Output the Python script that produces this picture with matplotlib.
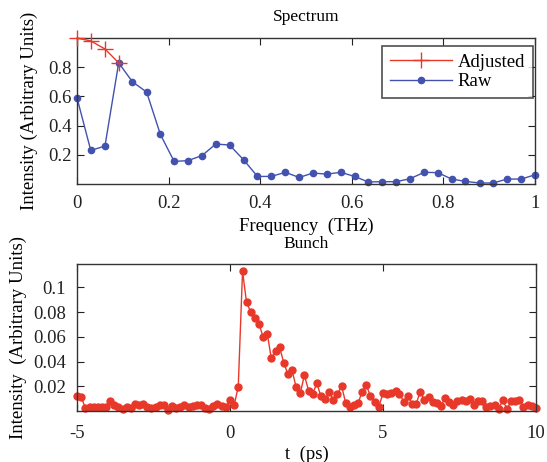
import matplotlib
matplotlib.use("Agg")
import matplotlib.pyplot as plt

plt.rcParams["font.family"] = ["Liberation Serif", "DejaVu Serif"]
plt.rcParams["axes.unicode_minus"] = False

# === Spectrum data
freq_raw = [0.000, 0.030, 0.061, 0.091, 0.121, 0.152, 0.182, 0.212, 0.242, 0.273,
            0.303, 0.333, 0.364, 0.394, 0.424, 0.455, 0.485, 0.515, 0.545, 0.576,
            0.606, 0.636, 0.667, 0.697, 0.727, 0.758, 0.788, 0.818, 0.848, 0.879,
            0.909, 0.939, 0.970, 1.000]
raw = [0.59, 0.23, 0.26, 0.83, 0.70, 0.63, 0.34, 0.155, 0.16, 0.195,
       0.274, 0.267, 0.165, 0.052, 0.052, 0.080, 0.045, 0.075, 0.068, 0.080,
       0.052, 0.014, 0.016, 0.016, 0.036, 0.080, 0.078, 0.034, 0.018, 0.007,
       0.007, 0.034, 0.034, 0.063]
freq_adj = [0.000, 0.030, 0.061, 0.091]
adjusted = [1.0, 0.98, 0.925, 0.83]

# === Bunch data
t_ps = [-5.00, -4.86, -4.73, -4.59, -4.46, -4.32, -4.19, -4.05, -3.92, -3.78,
        -3.65, -3.51, -3.38, -3.24, -3.11, -2.97, -2.84, -2.70, -2.57, -2.43,
        -2.30, -2.16, -2.03, -1.89, -1.76, -1.62, -1.49, -1.35, -1.22, -1.08,
        -0.95, -0.81, -0.68, -0.54, -0.41, -0.27, -0.14, 0.00, 0.14, 0.27,
        0.41, 0.54, 0.68, 0.81, 0.95, 1.08, 1.22, 1.35, 1.49, 1.62,
        1.76, 1.89, 2.03, 2.16, 2.30, 2.43, 2.57, 2.70, 2.84, 2.97,
        3.11, 3.24, 3.38, 3.51, 3.65, 3.78, 3.92, 4.05, 4.19, 4.32,
        4.46, 4.59, 4.73, 4.86, 5.00, 5.14, 5.27, 5.41, 5.54, 5.68,
        5.81, 5.95, 6.08, 6.22, 6.35, 6.49, 6.62, 6.76, 6.89, 7.03,
        7.16, 7.30, 7.43, 7.57, 7.70, 7.84, 7.97, 8.11, 8.24, 8.38,
        8.51, 8.65, 8.78, 8.92, 9.05, 9.19, 9.32, 9.46, 9.59, 9.73,
        9.86, 10.00]
bunch = [0.012, 0.011, 0.0025, 0.003, 0.003, 0.003, 0.003, 0.003, 0.008, 0.0045,
         0.003, 0.0015, 0.003, 0.0025, 0.006, 0.005, 0.006, 0.003, 0.0025, 0.003,
         0.0045, 0.0045, 0.001, 0.004, 0.0025, 0.003, 0.0045, 0.003, 0.004, 0.0045,
         0.0045, 0.0025, 0.002, 0.004, 0.006, 0.004, 0.003, 0.0085, 0.005, 0.0197,
         0.113, 0.088, 0.080, 0.0755, 0.0705, 0.060, 0.0624, 0.0425, 0.0484, 0.0517,
         0.0388, 0.030, 0.033, 0.0192, 0.0146, 0.0289, 0.0165, 0.0138, 0.0224, 0.0119,
         0.0095, 0.0154, 0.0087, 0.0138, 0.020, 0.0066, 0.0031, 0.0047, 0.0066, 0.0157,
         0.0208, 0.0119, 0.0071, 0.003, 0.0144, 0.0138, 0.0144, 0.016, 0.0138, 0.0076,
         0.0125, 0.0055, 0.0055, 0.0157, 0.009, 0.0117, 0.0076, 0.0063, 0.004, 0.0106,
         0.0076, 0.005, 0.0079, 0.009, 0.0082, 0.0095, 0.005, 0.0079, 0.0079, 0.0034,
         0.004, 0.0047, 0.0017, 0.0087, 0.0017, 0.0079, 0.0079, 0.009, 0.003, 0.0047,
         0.004, 0.0025]

RED = "#e8382a"
BLUE = "#4252ae"
TICK_FS = 13.5
LABEL_FS = 13.5

fig = plt.figure(figsize=(5.47, 4.62), dpi=100)
ax1 = fig.add_axes([0.1408, 0.6017, 0.8372, 0.3160])
ax2 = fig.add_axes([0.1408, 0.1104, 0.8390, 0.3171])


def style_axes(ax, xpad, ypad):
    ax.tick_params(direction="in", top=True, right=True, length=5, width=0.8,
                   labelsize=TICK_FS, colors="#222222")
    ax.tick_params(axis="x", pad=xpad)
    ax.tick_params(axis="y", pad=ypad)
    for s in ax.spines.values():
        s.set_linewidth(1.0)
        s.set_color("#333333")


# --- Spectrum
ax1.plot(freq_adj, adjusted, color=RED, lw=1.0, marker="+", ms=12, mew=1.0,
         label="Adjusted", clip_on=False, zorder=3)
ax1.plot(freq_raw, raw, color=BLUE, lw=1.0, marker="o", ms=4.5,
         label="Raw", clip_on=False, zorder=2)
ax1.set_xlim(0, 1)
ax1.set_ylim(0, 1)
ax1.set_xticks([0, 0.2, 0.4, 0.6, 0.8, 1])
ax1.set_xticklabels(["0", "0.2", "0.4", "0.6", "0.8", "1"])
ax1.set_yticks([0.2, 0.4, 0.6, 0.8])
ax1.set_yticklabels(["0.2", "0.4", "0.6", "0.8"])
style_axes(ax1, 8, 4)
ax1.set_title("Spectrum", fontsize=12.5, pad=12)
ax1.set_xlabel("Frequency  (THz)", fontsize=LABEL_FS, labelpad=4)
ax1.set_ylabel("Intensity (Arbitrary Units)", fontsize=LABEL_FS, labelpad=7)
leg = ax1.legend(loc="upper right", bbox_to_anchor=(0.9956, 0.945),
                 fontsize=LABEL_FS, frameon=True, fancybox=False,
                 edgecolor="#222222", borderpad=0.42, handlelength=3.3,
                 handletextpad=0.3, labelspacing=0.12, borderaxespad=0)
leg.get_frame().set_linewidth(1.2)

# --- Bunch
ax2.plot(t_ps, bunch, color=RED, lw=1.0, marker="o", ms=5, clip_on=False)
ax2.set_xlim(-5, 10)
ax2.set_ylim(0, 0.1185)
ax2.set_xticks([-5, 0, 5, 10])
ax2.set_yticks([0.02, 0.04, 0.06, 0.08, 0.1])
ax2.set_yticklabels(["0.02", "0.04", "0.06", "0.08", "0.1"])
style_axes(ax2, 10, 8)
ax2.set_title("Bunch", fontsize=12.5, pad=12)
ax2.set_xlabel("t  (ps)", fontsize=LABEL_FS, labelpad=3)
ax2.set_ylabel("Intensity  (Arbitrary Units)", fontsize=LABEL_FS, labelpad=4)

fig.savefig("out.png", dpi=100)
